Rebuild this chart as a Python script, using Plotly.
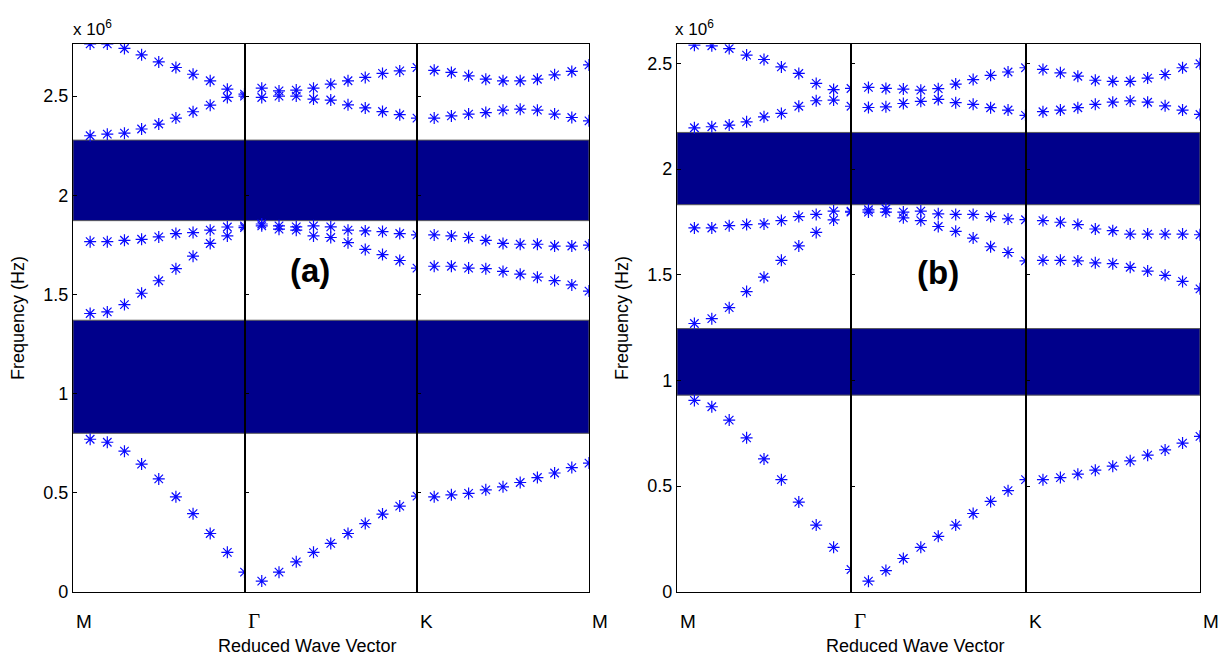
import plotly.graph_objects as go

# ---------------- data (frequencies in units of 1e6 Hz) ----------------
seg_labels = ["M", "\u0393", "K", "M"]
k_frac = [0.1, 0.2, 0.3, 0.4, 0.5, 0.6, 0.7, 0.8, 0.9, 1.0]   # position inside each segment

# panel (a): each band = M-Gamma (10) + Gamma-K (10) + K-M (10)
a_band1 = [0.77, 0.755, 0.71, 0.645, 0.57, 0.48, 0.395, 0.295, 0.20, 0.10,
           0.055, 0.10, 0.152, 0.20, 0.245, 0.295, 0.345, 0.393, 0.433, 0.483,
           0.48, 0.49, 0.497, 0.515, 0.53, 0.552, 0.577, 0.60, 0.627, 0.65]
a_band2 = [1.404, 1.412, 1.449, 1.506, 1.569, 1.630, 1.693, 1.757, 1.795, 1.837,
           1.846, 1.829, 1.824, 1.795, 1.787, 1.761, 1.727, 1.701, 1.671, 1.633,
           1.642, 1.642, 1.633, 1.630, 1.616, 1.602, 1.587, 1.570, 1.548, 1.517]
a_band3 = [1.766, 1.766, 1.773, 1.778, 1.790, 1.807, 1.812, 1.824, 1.840, 1.845,
           1.855, 1.846, 1.841, 1.846, 1.841, 1.824, 1.820, 1.817, 1.807, 1.800,
           1.800, 1.795, 1.787, 1.773, 1.757, 1.753, 1.753, 1.744, 1.744, 1.749]
a_band4 = [2.300, 2.308, 2.313, 2.334, 2.359, 2.389, 2.421, 2.454, 2.493, 2.500,
           2.493, 2.500, 2.500, 2.485, 2.480, 2.456, 2.440, 2.422, 2.406, 2.389,
           2.389, 2.400, 2.409, 2.417, 2.429, 2.434, 2.429, 2.409, 2.392, 2.375]
a_band5 = [2.763, 2.763, 2.740, 2.708, 2.672, 2.644, 2.610, 2.577, 2.535, 2.510,
           2.540, 2.526, 2.530, 2.540, 2.560, 2.577, 2.594, 2.614, 2.627, 2.644,
           2.630, 2.619, 2.602, 2.585, 2.577, 2.577, 2.585, 2.607, 2.624, 2.657]
a_gaps = [(0.80, 1.37), (1.872, 2.278)]

# panel (b)
b_band1 = [0.905, 0.875, 0.812, 0.728, 0.628, 0.530, 0.424, 0.315, 0.210, 0.105,
           0.050, 0.100, 0.157, 0.210, 0.262, 0.315, 0.370, 0.427, 0.478, 0.530,
           0.530, 0.540, 0.556, 0.575, 0.594, 0.619, 0.646, 0.671, 0.703, 0.735]
b_band2 = [1.269, 1.292, 1.344, 1.420, 1.488, 1.568, 1.636, 1.700, 1.759, 1.796,
           1.796, 1.796, 1.769, 1.756, 1.728, 1.705, 1.673, 1.632, 1.605, 1.565,
           1.568, 1.568, 1.565, 1.556, 1.552, 1.535, 1.517, 1.497, 1.468, 1.433]
b_band3 = [1.721, 1.721, 1.732, 1.737, 1.740, 1.756, 1.775, 1.785, 1.801, 1.800,
           1.807, 1.812, 1.796, 1.801, 1.788, 1.785, 1.785, 1.775, 1.764, 1.760,
           1.756, 1.748, 1.737, 1.716, 1.708, 1.692, 1.692, 1.692, 1.692, 1.689]
b_band4 = [2.195, 2.200, 2.208, 2.223, 2.247, 2.263, 2.297, 2.323, 2.326, 2.297,
           2.291, 2.294, 2.310, 2.320, 2.329, 2.314, 2.306, 2.290, 2.279, 2.254,
           2.271, 2.279, 2.290, 2.306, 2.316, 2.322, 2.316, 2.299, 2.279, 2.258]
b_band5 = [2.586, 2.583, 2.570, 2.539, 2.518, 2.483, 2.452, 2.405, 2.376, 2.381,
           2.386, 2.381, 2.378, 2.373, 2.380, 2.402, 2.423, 2.443, 2.459, 2.479,
           2.471, 2.455, 2.439, 2.420, 2.415, 2.415, 2.430, 2.447, 2.479, 2.498]
b_gaps = [(0.93, 1.245), (1.831, 2.173)]

y_ticks = [0, 0.5, 1, 1.5, 2, 2.5]
y_ticktext = ["0", "0.5", "1", "1.5", "2", "2.5"]

# ---------------- layout geometry ----------------
W, H = 1225, 658
HF = 648.0   # effective drawing height used for vertical placement
panels = [
    dict(name="(a)", bands=[a_band1, a_band2, a_band3, a_band4, a_band5], gaps=a_gaps,
         xedges=[73, 244.5, 417, 589], ytop=43.5, ybot=592, yrange=[0, 2.765],
         label_xy=(310, 270), title_x=307, ylab_x=18, exp_x=71),
    dict(name="(b)", bands=[b_band1, b_band2, b_band3, b_band4, b_band5], gaps=b_gaps,
         xedges=[677, 851, 1025.5, 1200], ytop=44.3, ybot=591.7, yrange=[0, 2.59],
         label_xy=(938, 272), title_x=915, ylab_x=622, exp_x=673),
]

SANS = "Liberation Sans, Arial, sans-serif"
SERIF = "Liberation Serif, Times New Roman, serif"
marker_color = "rgb(10,10,255)"
gap_color = "rgb(0,0,139)"


def fy(py):
    return 1 - py / HF


fig = go.Figure()
layout = dict(width=W, height=H, autosize=False, margin=dict(l=0, r=0, t=0, b=0),
              paper_bgcolor="white", plot_bgcolor="white", showlegend=False)
shapes, annotations = [], []

ax = 0
for p in panels:
    ydom = [fy(p["ybot"]), fy(p["ytop"])]
    for s in range(3):
        ax += 1
        xn = "xaxis" if ax == 1 else f"xaxis{ax}"
        yn = "yaxis" if ax == 1 else f"yaxis{ax}"
        xr = "x" if ax == 1 else f"x{ax}"
        yr = "y" if ax == 1 else f"y{ax}"
        layout[xn] = dict(domain=[p["xedges"][s] / W, p["xedges"][s + 1] / W], range=[0, 1],
                          anchor=yr, showgrid=False, zeroline=False, showticklabels=False,
                          showline=True, linecolor="black", linewidth=1.3, mirror=True,
                          ticks="", fixedrange=True)
        layout[yn] = dict(domain=ydom, range=p["yrange"], anchor=xr, showgrid=False,
                          zeroline=False, tickvals=y_ticks, ticktext=y_ticktext,
                          showticklabels=(s == 0), ticks="inside", ticklen=4,
                          tickcolor="black", tickwidth=1,
                          tickfont=dict(family=SANS, size=18, color="black"),
                          showline=True, linecolor="black", linewidth=1.3, mirror=True,
                          fixedrange=True)
        # band gaps
        for lo, hi in p["gaps"]:
            shapes.append(dict(type="rect", xref=f"{xr} domain", yref=yr, x0=0, x1=1,
                               y0=lo, y1=hi, fillcolor=gap_color,
                               line=dict(color="rgb(90,90,90)", width=1), layer="below"))
        # bands
        for band in p["bands"]:
            fig.add_trace(go.Scatter(
                x=k_frac, y=band[s * 10:(s + 1) * 10], mode="markers",
                xaxis=xr, yaxis=yr, cliponaxis=True,
                marker=dict(symbol="asterisk-open", size=10, color=marker_color,
                            line=dict(color=marker_color, width=1.2)),
                hoverinfo="skip"))
    # x tick labels (left-aligned at the symmetry points)
    for i, lab in enumerate(seg_labels):
        annotations.append(dict(text=lab, x=p["xedges"][i] / W + 1 / W, y=fy(621),
                                xref="paper", yref="paper", xanchor="left", yanchor="middle",
                                showarrow=False,
                                font=dict(family=SERIF if lab == "\u0393" else SANS,
                                          size=21 if lab == "\u0393" else 19, color="black")))
    # axis titles
    annotations.append(dict(text="Reduced Wave Vector", x=p["title_x"] / W, y=fy(646),
                            xref="paper", yref="paper", xanchor="center", yanchor="middle",
                            showarrow=False, font=dict(family=SANS, size=18, color="black")))
    annotations.append(dict(text="Frequency (Hz)", x=p["ylab_x"] / W, y=fy(318),
                            xref="paper", yref="paper", xanchor="center", yanchor="middle",
                            textangle=-90, showarrow=False,
                            font=dict(family=SANS, size=18, color="black")))
    annotations.append(dict(text="x 10<sup>6</sup>", x=p["exp_x"] / W, y=fy(28),
                            xref="paper", yref="paper", xanchor="left", yanchor="middle",
                            showarrow=False, font=dict(family=SANS, size=17, color="black")))
    annotations.append(dict(text="<b>" + p["name"] + "</b>", x=p["label_xy"][0] / W,
                            y=fy(p["label_xy"][1]), xref="paper", yref="paper",
                            xanchor="center", yanchor="middle", showarrow=False,
                            font=dict(family=SANS, size=33, color="black")))

layout["shapes"] = shapes
layout["annotations"] = annotations
fig.update_layout(**layout)
fig.write_html(
    "out.html",
    config={"displayModeBar": False, "responsive": False},
    default_width="1225px", default_height="658px",
    post_script=(
        "document.documentElement.style.margin='0px';"
        "document.body.style.margin='0px';document.body.style.padding='0px';"
        "document.body.style.overflow='hidden';"
        "var gd=document.getElementById('{plot_id}');"
        "Plotly.relayout(gd,{width:window.innerWidth,height:window.innerHeight});"
    ),
)
